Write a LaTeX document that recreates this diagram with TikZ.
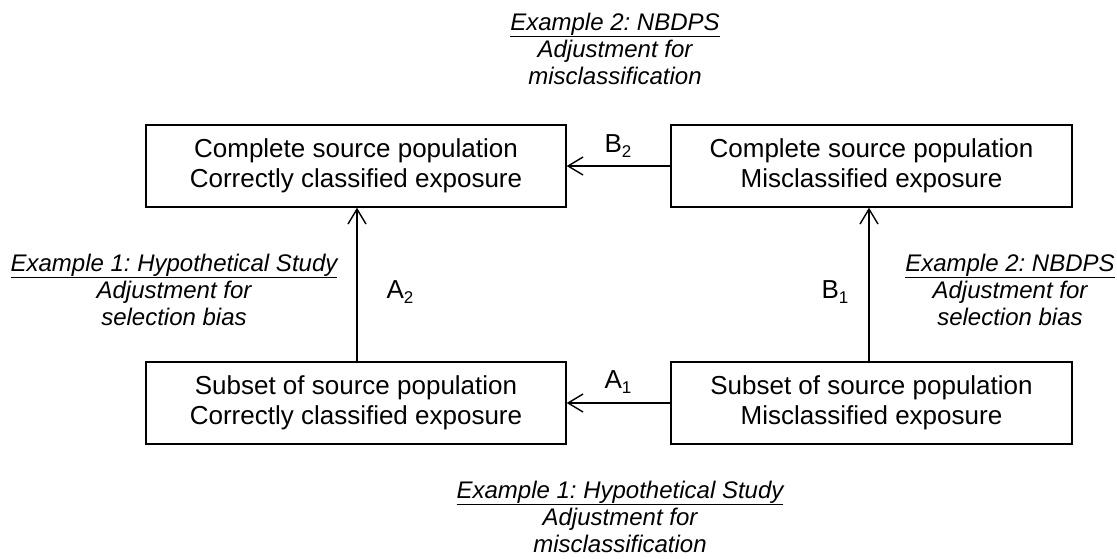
\documentclass[tikz,border=0pt]{standalone}
\usepackage{fontspec}
\setmainfont{Liberation Sans}
\usetikzlibrary{arrows.meta}
\frenchspacing
\newcommand{\mysub}[1]{\raisebox{-5pt}{\fontsize{17}{17}\selectfont #1}}
\newcommand{\myul}[1]{\leavevmode\setbox0\hbox{#1}\rlap{\rule[-6.5pt]{\wd0}{1.2pt}}\box0}
\begin{document}
\begin{tikzpicture}[x=1pt,y=-1pt,
  box/.style={draw, line width=1.4pt, inner sep=0pt, minimum height=82pt, align=center,
    font=\fontsize{26}{30}\selectfont},
  conn/.style={line width=1.4pt, -{Straight Barb[length=15pt,width=18pt,line width=1.4pt]}},
  note/.style={align=center, font=\fontsize{24}{27}\selectfont\itshape},
  lab/.style={font=\fontsize{26}{30}\selectfont}]
\useasboundingbox (0,0) rectangle (1117,558);
\node[box, minimum width=420pt] (tl) at (356,166) {Complete source population\\Correctly classified exposure};
\node[box, minimum width=401pt] (tr) at (871.5,166) {Complete source population\\Misclassified exposure};
\node[box, minimum width=420pt] (bl) at (356,403) {Subset of source population\\Correctly classified exposure};
\node[box, minimum width=401pt] (br) at (871.5,403) {Subset of source population\\Misclassified exposure};
\draw[conn] (tr.west) -- (tl.east);
\draw[conn] (br.west) -- (bl.east);
\draw[conn] (bl.north -| 357,0) -- (tl.south -| 357,0);
\draw[conn] (br.north -| 869,0) -- (tr.south -| 869,0);
\node[lab] (b2) at (618,146) {B\mysub{2}};
\node[lab] (a1) at (618,382) {A\mysub{1}};
\node[lab] (a2) at (400,292) {A\mysub{2}};
\node[lab] (b1) at (835,292) {B\mysub{1}};
\node[note] (n1) at (615,49) {\myul{Example 2: NBDPS}\\Adjustment for\\misclassification};
\node[note] (n2) at (174,290) {\myul{Example 1: Hypothetical Study}\\Adjustment for\\selection bias};
\node[note] (n3) at (1010,290) {\myul{Example 2: NBDPS}\\Adjustment for\\selection bias};
\node[note] (n4) at (620,517) {\myul{Example 1: Hypothetical Study}\\Adjustment for\\misclassification};
\end{tikzpicture}
\end{document}
